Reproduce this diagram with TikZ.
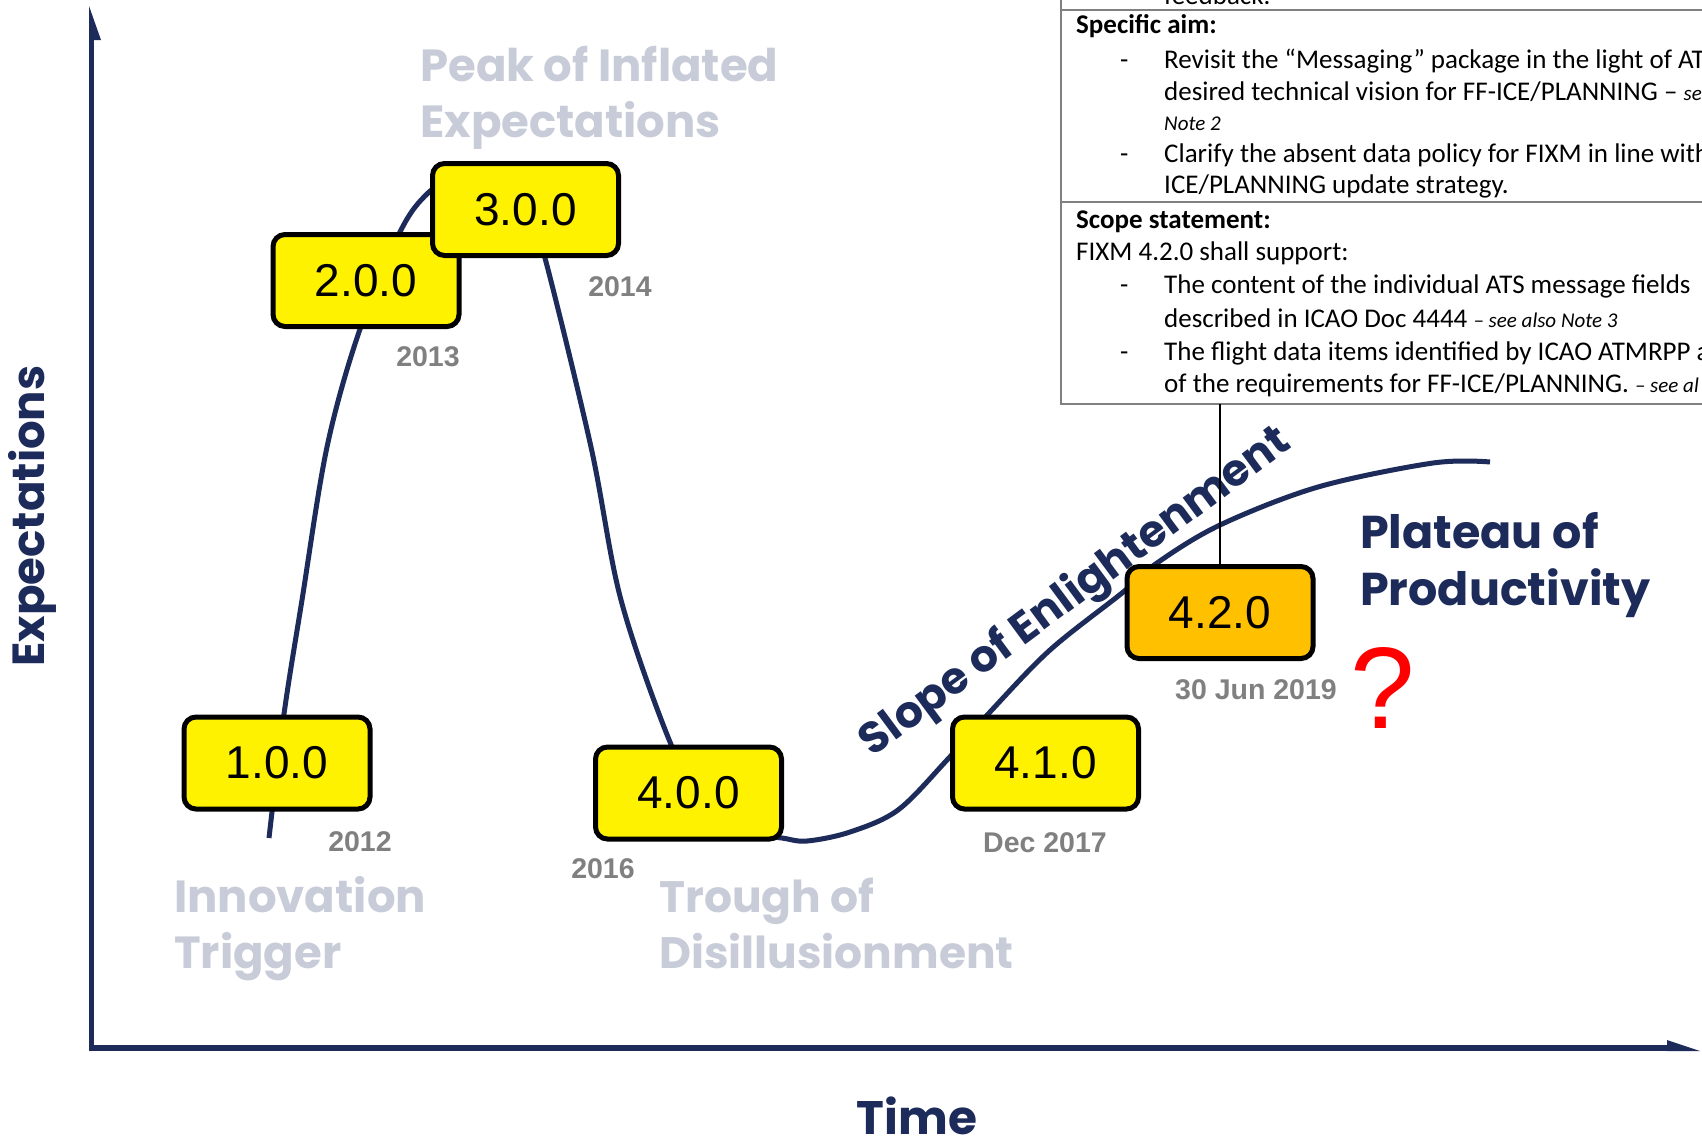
\documentclass[tikz,border=0pt]{standalone}
\usepackage{fontspec}
\newfontfamily\phasefont{Poppins}
\newfontfamily\arialfont{Liberation Sans}
\newfontfamily\panelfont{Carlito}
\definecolor{hypenavy}{HTML}{1C2B5A}
\definecolor{phasegray}{HTML}{C8CCD8}
\definecolor{yeargray}{HTML}{808080}
\definecolor{verorange}{HTML}{FFC000}

\tikzset{verbox/.style = {draw, line width=5pt, rounded corners=12pt, fill=#1,
                          minimum width=186pt, minimum height=92pt, inner sep=0pt,
                          font=\arialfont\fontsize{46}{50}\selectfont},
         verbox/.default=yellow,
         yearlabel/.style = {text=yeargray, inner sep=0pt,
                             font=\arialfont\bfseries\fontsize{28.5}{30}\selectfont},
         phaselabel/.style = {anchor=base west, align=left, inner sep=0pt, text=#1,
                              font=\phasefont\bfseries\fontsize{45}{56}\selectfont},
         phaselabel/.default=phasegray,
         paneltext/.style = {anchor=base west, inner sep=0pt,
                             font=\panelfont\fontsize{27}{33}\selectfont}
        }
\newcommand{\smallit}[1]{{\itshape\fontsize{21}{25}\selectfont #1}}

\begin{document}
\begin{tikzpicture}[x=1pt, y=-1pt]
\useasboundingbox (0,0) rectangle (1702,1135);
\clip (0,0) rectangle (1702,1135);
\fill[white] (0,0) rectangle (1702,1135);

\node[phaselabel] (peak) at (420,137) {Peak of Inflated\\Expectations};
\node[phaselabel] (trigger) at (174,968) {Innovation\\Trigger};
\node[phaselabel, font=\phasefont\bfseries\fontsize{44}{56}\selectfont] (trough) at (659,968) {Trough of\\Disillusionment};
\node[phaselabel=hypenavy, font=\phasefont\bfseries\fontsize{46}{57}\selectfont] (plateau) at (1360,605) {Plateau of\\Productivity};
\node[text=hypenavy, inner sep=0pt, rotate=36.5, font=\phasefont\bfseries\fontsize{44}{50}\selectfont] (slope) at (1076,593) {Slope of Enlightenment};
\node[text=hypenavy, inner sep=0pt, anchor=base, rotate=90, font=\phasefont\bfseries\fontsize{45}{50}\selectfont] (yaxlabel) at (44,516) {Expectations};
\node[text=hypenavy, inner sep=0pt, anchor=base, font=\phasefont\bfseries\fontsize{47}{50}\selectfont] (xaxlabel) at (917,1134) {Time};

% hype cycle
\draw[hypenavy, line width=5pt] plot[smooth, tension=0.55] coordinates {
  (269,838) (284,714) (302,600) (327,447) (359,332) (400,232) (428,193)
  (462,172) (495,172) (525,200) (545,258) (591,447) (621,600) (670,742)
  (705,805) (745,832) (782,838) (807,841) (850,832) (898,810) (947,760)
  (990,712) (1050,650) (1122,593) (1157,563) (1220,525) (1318,487)
  (1433,463) (1490,462)};

\node[verbox] (v100) at (277,763) {1.0.0};
\node[verbox] (v200) at (366,280.5) {2.0.0};
\node[verbox] (v300) at (525.5,209.5) {3.0.0};
\node[verbox] (v400) at (688.5,793) {4.0.0};
\node[verbox] (v410) at (1045.5,763) {4.1.0};
\node[verbox=verorange] (v420) at (1220,612.5) {4.2.0};

\node[yearlabel] (y2012) at (360,842) {2012};
\node[yearlabel] (y2013) at (428,357) {2013};
\node[yearlabel] (y2014) at (620,287) {2014};
\node[yearlabel] (y2016) at (603,869) {2016};
\node[yearlabel] (y2017) at (1045,843) {Dec 2017};
\node[yearlabel] (y2019) at (1256,690) {30 Jun 2019};
\node[text=red, inner sep=0pt, font=\arialfont\fontsize{116}{120}\selectfont] (qmark) at (1383,688) {?};

% scope panel
\fill[white] (1061,-5) rectangle (1710,404);
\draw[gray, line width=2pt] (1061,-5) -- (1061,404) -- (1710,404);
\draw[gray, line width=1.5pt] (1061,10) -- (1710,10);
\draw[gray, line width=1.5pt] (1061,202) -- (1710,202);
\node[paneltext] (fb) at (1164,5) {feedback.};
\node[paneltext, font=\panelfont\bfseries\fontsize{27}{33}\selectfont] (aim) at (1076,33) {Specific aim:};
\node[paneltext] (d1) at (1120,68) {-};
\node[paneltext] (aim1) at (1164,68) {Revisit the “Messaging” package in the light of AT};
\node[paneltext] (aim2) at (1164,100) {desired technical vision for FF-ICE/PLANNING – \smallit{se}};
\node[paneltext] (aim3) at (1164,130) {\smallit{Note 2}};
\node[paneltext] (d2) at (1120,162) {-};
\node[paneltext] (aim4) at (1164,162) {Clarify the absent data policy for FIXM in line with};
\node[paneltext] (aim5) at (1164,193) {ICE/PLANNING update strategy.};
\node[paneltext, font=\panelfont\bfseries\fontsize{27}{33}\selectfont] (scope) at (1076,228) {Scope statement:};
\node[paneltext] (scope1) at (1076,260) {FIXM 4.2.0 shall support:};
\node[paneltext] (d3) at (1120,293) {-};
\node[paneltext] (scope2) at (1164,293) {The content of the individual ATS message fields};
\node[paneltext] (scope3) at (1164,327) {described in ICAO Doc 4444 \smallit{– see also Note 3}};
\node[paneltext] (d4) at (1120,360) {-};
\node[paneltext] (scope4) at (1164,360) {The flight data items identified by ICAO ATMRPP a};
\node[paneltext] (scope5) at (1164,392) {of the requirements for FF-ICE/PLANNING. \smallit{– see al}};
\coordinate (panelfoot) at (1220,404);
\draw[line width=2pt] (panelfoot) -- (v420.north);

% axes
\draw[hypenavy, line width=5pt] (91.5,1051) -- (91.5,38);
\fill[hypenavy] (89,6) -- (101,40) -- (89,40) -- cycle;
\draw[hypenavy, line width=6pt] (89,1048) -- (1668,1048);
\fill[hypenavy] (1667,1040) -- (1700,1051) -- (1667,1051) -- cycle;
\end{tikzpicture}
\end{document}
